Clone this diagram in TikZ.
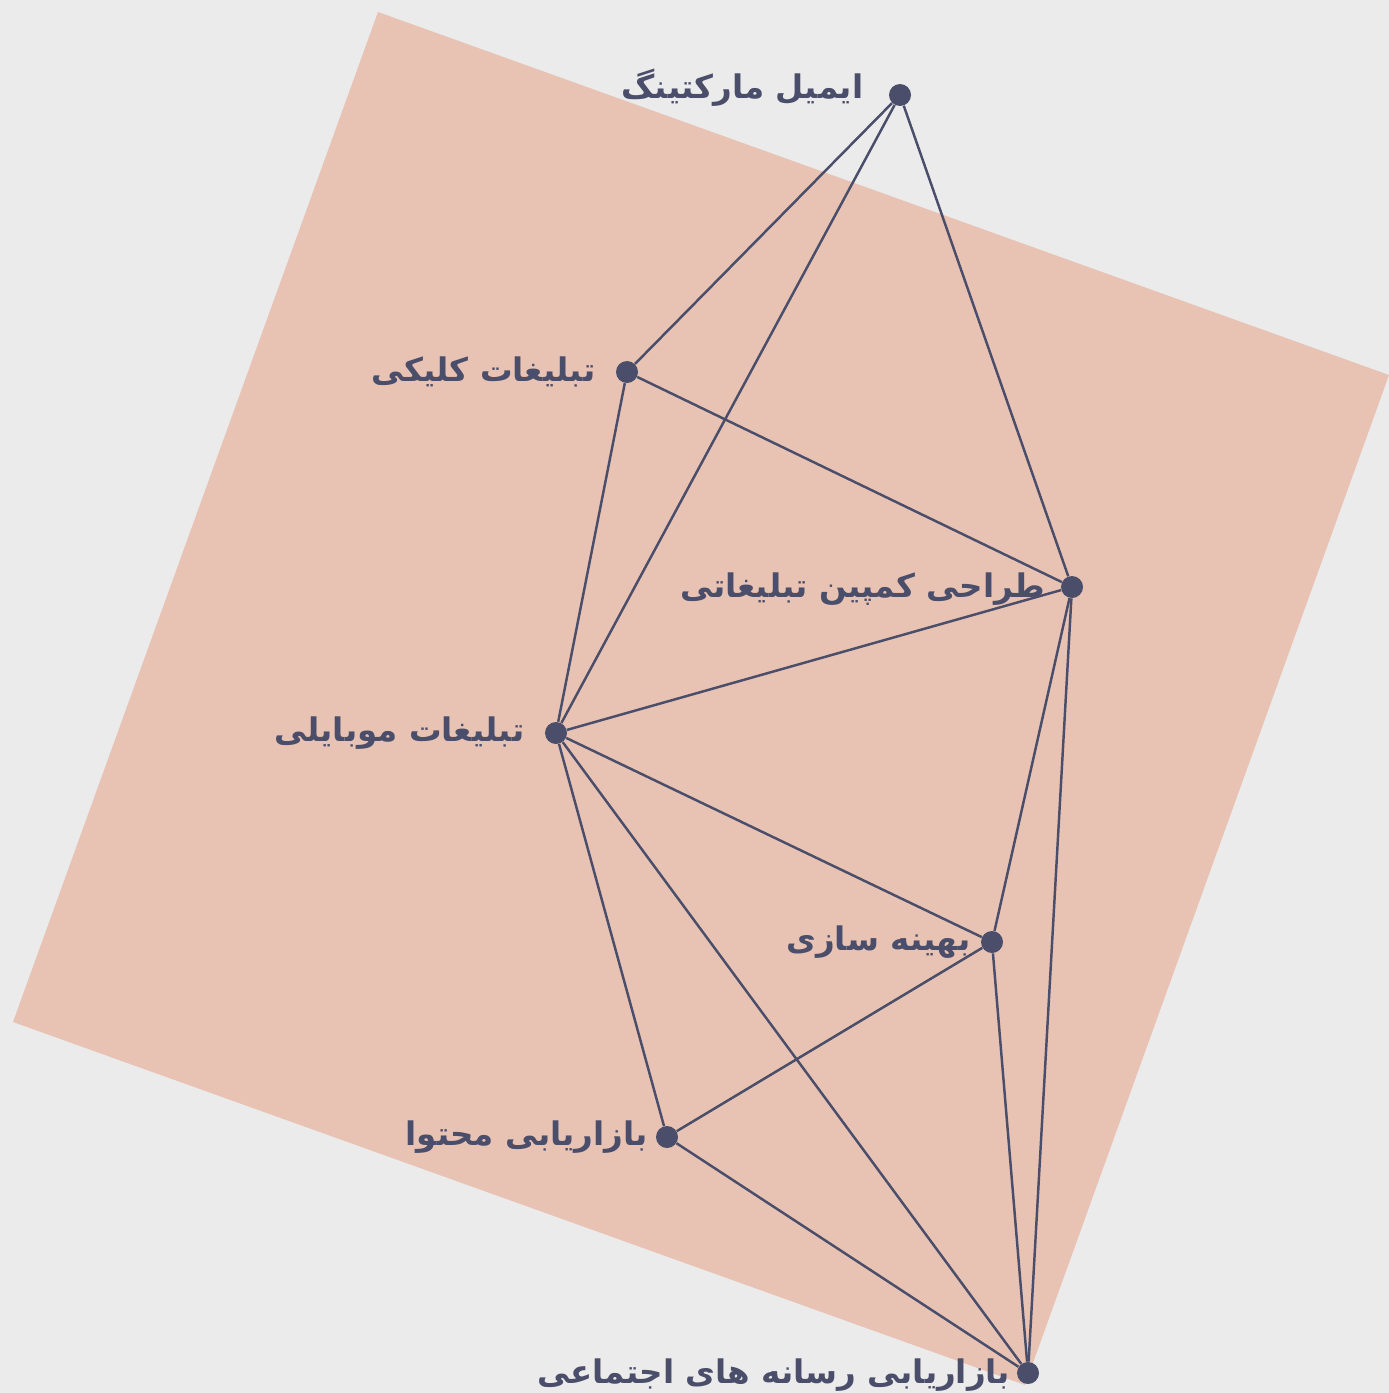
\documentclass[tikz,border=0pt]{standalone}
\usepackage{fontspec}
\usetikzlibrary{positioning}
\TeXXeTstate=1
\newfontfamily\arabicfont[Script=Arabic]{DejaVu Sans}
\definecolor{paper}{RGB}{235,235,235}
\definecolor{blush}{RGB}{232,195,180}
\definecolor{ink}{RGB}{74,78,106}

\begin{document}
\begin{tikzpicture}[x=0.02cm, y=-0.02cm,
    dot/.style={circle, fill=ink, inner sep=0pt, minimum size=0.44cm},
    tag/.style={text=ink, inner sep=0pt, font=\arabicfont\bfseries\fontsize{18.5}{21}\selectfont},
    link/.style={draw=ink, line width=1.4pt}]
    \fill[paper] (0,0) rectangle (1389,1393);
    \useasboundingbox (0,0) rectangle (1389,1393);
    \fill[blush] (378,12) -- (1389,375) -- (1025,1385) -- (13,1022) -- cycle;

    \node[dot] (email) at (900,95) {};
    \node[dot] (click) at (627,372) {};
    \node[dot] (campaign) at (1072,587) {};
    \node[dot] (mobile) at (556,733) {};
    \node[dot] (optim) at (992,942) {};
    \node[dot] (content) at (667,1137) {};
    \node[dot] (social) at (1028,1373) {};

    \foreach \a/\b in {email/click, email/mobile, email/campaign, click/campaign, click/mobile,
        campaign/mobile, campaign/optim, campaign/social, mobile/optim, mobile/content,
        mobile/social, optim/content, optim/social, content/social}
        \draw[link] (\a) -- (\b);

    \node[tag, left=0.5cm of email, yshift=0.14cm] {\beginR ایمیل مارکتینگ\endR};
    \node[tag, left=0.4cm of click] {\beginR تبلیغات کلیکی\endR};
    \node[tag, left=0.3cm of campaign, yshift=-0.05cm] {\beginR طراحی کمپین تبلیغاتی\endR};
    \node[tag, left=0.4cm of mobile] {\beginR تبلیغات موبایلی\endR};
    \node[tag, left=0.2cm of optim] {\beginR بهینه سازی\endR};
    \node[tag, left=0.15cm of content] {\beginR بازاریابی محتوا\endR};
    \node[tag, left=0.12cm of social, yshift=-0.04cm] {\beginR بازاریابی رسانه های اجتماعی\endR};
\end{tikzpicture}
\end{document}
